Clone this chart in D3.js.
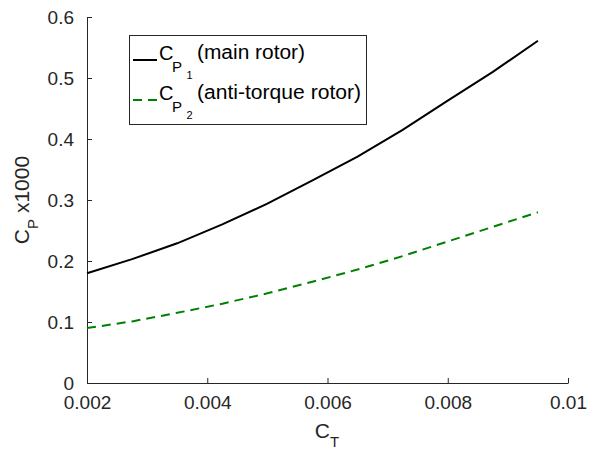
<!DOCTYPE html>
<html>
<head>
<meta charset="utf-8">
<script src="https://cdn.jsdelivr.net/npm/d3@7"></script>
<style>
  html, body { margin: 0; padding: 0; background: #fff; }
  svg { display: block; font-family: "Liberation Sans", Arial, Helvetica, sans-serif; }
</style>
</head>
<body>
<svg id="chart" width="603" height="450"></svg>
<script>
// ---- data ----
const ctValues = [0.002, 0.00275, 0.0035, 0.00425, 0.005, 0.00575, 0.0065, 0.00725, 0.008, 0.00875, 0.0095];
const cpMain   = [0.180, 0.203, 0.229, 0.260, 0.294, 0.332, 0.371, 0.415, 0.463, 0.510, 0.561];
const cpAnti   = [0.090, 0.101, 0.115, 0.130, 0.147, 0.166, 0.186, 0.208, 0.232, 0.256, 0.280];
const xTicks = [0.002, 0.004, 0.006, 0.008, 0.01];
const xTickLabels = ["0.002", "0.004", "0.006", "0.008", "0.01"];
const yTicks = [0, 0.1, 0.2, 0.3, 0.4, 0.5, 0.6];
const yTickLabels = ["0", "0.1", "0.2", "0.3", "0.4", "0.5", "0.6"];

const svg = d3.select("#chart");
const mLeft = 87, mRight = 568, mTop = 17, mBottom = 383;
const axisColor = "#262626";
const fs = 19;

const x = d3.scaleLinear().domain([0.002, 0.01]).range([mLeft, mRight]);
const y = d3.scaleLinear().domain([0, 0.6]).range([mBottom, mTop]);

// axes
const xAxis = d3.axisBottom(x).tickValues(xTicks).tickFormat((d, i) => xTickLabels[i])
  .tickSizeInner(-5).tickSizeOuter(0).tickPadding(13);
const gx = svg.append("g").attr("transform", `translate(0,${mBottom})`).call(xAxis);
const yAxis = d3.axisLeft(y).tickValues(yTicks).tickFormat((d, i) => yTickLabels[i])
  .tickSizeInner(-5).tickSizeOuter(0).tickPadding(13);
const gy = svg.append("g").attr("transform", `translate(${mLeft},0)`).call(yAxis);

[gx, gy].forEach(g => {
  g.selectAll(".domain").attr("stroke", axisColor).attr("stroke-width", 1);
  g.selectAll(".tick line").attr("stroke", axisColor);
  g.selectAll(".tick text").attr("fill", axisColor).attr("font-size", fs)
    .attr("font-family", "Liberation Sans, Arial, sans-serif");
});
gx.selectAll(".tick text").attr("dy", "0.71em");
gy.selectAll(".tick text").attr("dy", "0.33em");

// lines
const line = d3.line().x((d, i) => x(ctValues[i])).y(d => y(d));
svg.append("path").datum(cpMain).attr("d", line)
  .attr("fill", "none").attr("stroke", "#000").attr("stroke-width", 2);
svg.append("path").datum(cpAnti).attr("d", line)
  .attr("fill", "none").attr("stroke", "#008000").attr("stroke-width", 2)
  .attr("stroke-dasharray", "9,6");

// axis labels
const xl = svg.append("text").attr("x", 327).attr("y", 438).attr("text-anchor", "middle")
  .attr("font-size", 21).attr("fill", axisColor);
xl.append("tspan").text("C");
xl.append("tspan").attr("font-size", 15).attr("dy", 9).text("T");

const yl = svg.append("text").attr("transform", "translate(29,200) rotate(-90)")
  .attr("text-anchor", "middle").attr("font-size", 21).attr("fill", axisColor);
yl.append("tspan").text("C");
yl.append("tspan").attr("font-size", 15).attr("dy", 9).text("P");
yl.append("tspan").attr("dy", -9).text(" x1000");

// legend
const lg = svg.append("g");
lg.append("rect").attr("x", 129.5).attr("y", 35.5).attr("width", 237).attr("height", 89)
  .attr("fill", "#fff").attr("stroke", axisColor).attr("stroke-width", 1);
const legendItems = [
  { sub: "1", label: "(main rotor)", color: "#000", dash: null, yb: 60, w: 108 },
  { sub: "2", label: "(anti-torque rotor)", color: "#008000", dash: "9,6", yb: 100, w: 164 }
];
legendItems.forEach(it => {
  lg.append("line").attr("x1", 133).attr("x2", 157).attr("y1", it.yb).attr("y2", it.yb)
    .attr("stroke", it.color).attr("stroke-width", 2)
    .attr("stroke-dasharray", it.dash);
  const t = lg.append("text").attr("x", 159).attr("y", it.yb).attr("font-size", 20).attr("fill", "#000");
  t.append("tspan").text("C");
  t.append("tspan").attr("font-size", 15).attr("x", 172).attr("y", it.yb + 12).text("P");
  t.append("tspan").attr("font-size", 11).attr("x", 186.5).attr("y", it.yb + 18.5).text(it.sub);
  lg.append("text").attr("x", 197).attr("y", it.yb - 1).attr("font-size", 20).attr("fill", "#000")
    .attr("textLength", it.w).attr("lengthAdjust", "spacingAndGlyphs").text(it.label);
});
</script>
</body>
</html>
